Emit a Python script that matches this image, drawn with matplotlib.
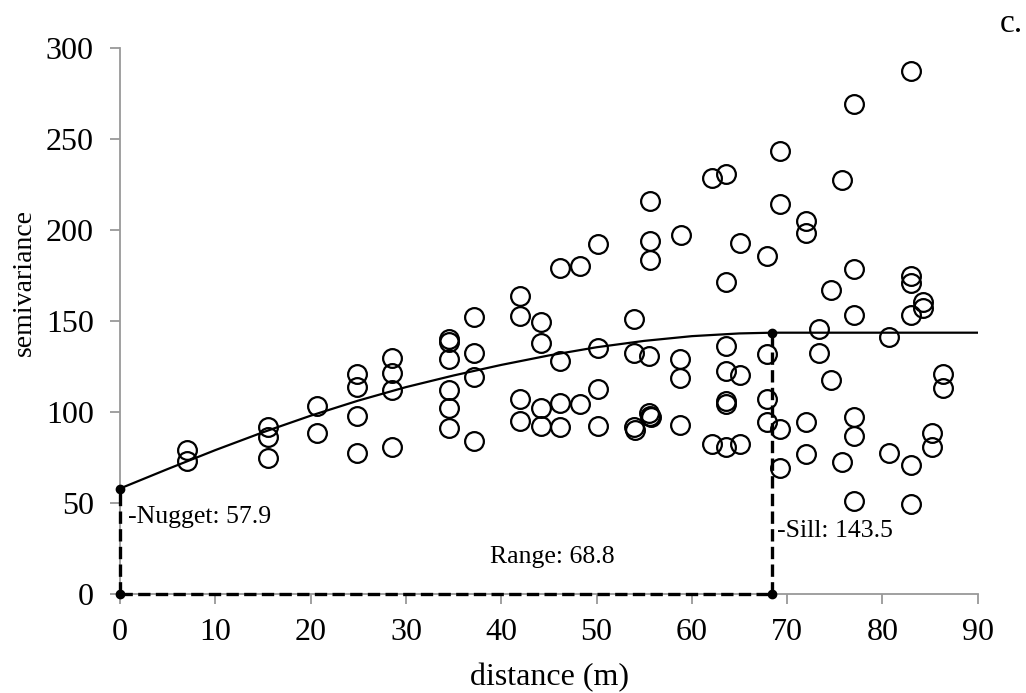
import matplotlib.pyplot as plt

plt.rcParams["font.family"] = ["Liberation Serif", "DejaVu Serif"]

# empirical semivariogram points (distance, semivariance)
dist = [7.0, 7.0, 15.5, 15.5, 15.5, 20.7, 20.7,
        24.9, 24.9, 24.9, 24.9, 28.5, 28.5, 28.5, 28.5,
        34.5, 34.5, 34.5, 34.5, 34.5, 34.5,
        37.1, 37.1, 37.1, 37.1,
        42.0, 42.0, 42.0, 42.0,
        44.2, 44.2, 44.2, 44.2,
        46.2, 46.2, 46.2, 46.2, 48.3, 48.3,
        50.2, 50.2, 50.2, 50.2,
        53.9, 53.9, 53.9, 54.0,
        55.6, 55.6, 55.6, 55.5, 55.5, 55.6, 55.7,
        58.8, 58.8, 58.8, 58.9,
        62.1, 62.1,
        63.6, 63.6, 63.6, 63.6, 63.6, 63.6, 63.6,
        65.0, 65.0, 65.0,
        67.9, 67.9, 67.9, 67.9,
        69.2, 69.2, 69.2, 69.2,
        72.0, 72.0, 72.0, 72.0,
        73.3, 73.3, 74.6, 74.6, 75.8, 75.8,
        77.0, 77.0, 77.0, 77.0, 77.0, 77.0,
        80.7, 80.7,
        83.0, 83.0, 83.0, 83.0, 83.0, 83.0,
        84.2, 84.2, 85.2, 85.2, 86.4, 86.4]
semivar = [79.1, 73.1, 91.9, 86.4, 74.9, 103.3, 88.3,
           120.9, 113.6, 98.0, 77.3, 129.8, 121.2, 112.1, 80.9,
           139.9, 138.6, 129.0, 112.1, 102.4, 91.4,
           152.0, 132.6, 119.4, 84.1,
           163.7, 152.6, 107.0, 95.2,
           149.6, 137.7, 102.0, 92.3,
           179.3, 128.2, 104.8, 91.6, 180.2, 104.4,
           192.1, 135.3, 112.5, 92.5,
           150.9, 132.2, 91.6, 90.1,
           216.1, 194.1, 183.5, 130.8, 99.3, 97.8, 97.1,
           128.9, 118.8, 92.9, 196.9,
           228.4, 82.4,
           230.6, 171.1, 136.3, 122.5, 105.7, 104.4, 80.9,
           192.5, 120.3, 82.4,
           185.9, 131.9, 107.0, 94.7,
           243.4, 214.3, 90.7, 69.1,
           204.6, 198.5, 94.7, 76.9,
           145.6, 132.2, 167.0, 117.6, 227.5, 72.4,
           269.1, 178.4, 153.3, 97.1, 87.0, 51.3,
           141.4, 77.3,
           287.4, 174.7, 170.7, 153.3, 70.9, 49.5,
           160.6, 157.0, 88.6, 80.9, 120.9, 113.0]

# fitted model curve
model_dist = [0, 5, 10, 15, 20, 25, 30, 35, 40, 45, 50, 55, 60, 65, 68.4, 90]
model_val = [57.9, 68.6, 79.0, 88.8, 97.9, 106.2, 113.6, 120.0, 125.8,
             131.0, 135.5, 139.0, 141.6, 143.1, 143.5, 143.5]

nugget = 57.9
sill = 143.5
range_x = 68.4

fig = plt.figure(figsize=(10.26, 6.93), dpi=100)
ax = fig.add_axes([0.117, 0.143, 0.836, 0.788])

ax.plot(model_dist, model_val, color="black", lw=1.6, zorder=2)
ax.plot(dist, semivar, "o", ms=13.5, mfc="none", mec="black", mew=1.6,
        zorder=3, clip_on=False)

# nugget / sill / range guides
ax.plot([0, 0], [0, nugget], "--", color="black", lw=2.4, clip_on=False, zorder=4)
ax.plot([0, range_x], [0, 0], "--", color="black", lw=2.4, clip_on=False, zorder=4)
ax.plot([range_x, range_x], [0, sill], "--", color="black", lw=2.4, clip_on=False, zorder=4)
ax.plot([0, 0, range_x, range_x], [0, nugget, 0, sill], "o", color="black",
        ms=6, clip_on=False, zorder=5)

ax.text(0.8, 42.3, "-Nugget: 57.9", fontsize=18.5, va="center", ha="left")
ax.text(45.4, 20.3, "Range: 68.8", fontsize=18.5, va="center", ha="center")
ax.text(68.9, 34.6, "-Sill: 143.5", fontsize=18.5, va="center", ha="left")
fig.text(0.997, 0.966, "c.", fontsize=24, ha="right", va="center")

ax.set_xlim(0, 90)
ax.set_ylim(0, 300)
ax.set_xticks(range(0, 91, 10))
ax.set_yticks(range(0, 301, 50))
ax.set_xlabel("distance (m)", fontsize=23, va="top")
ax.xaxis.set_label_coords(0.501, -0.126)
ax.set_ylabel("semivariance", fontsize=20, va="center")
ax.yaxis.set_label_coords(-0.111, 0.571)

for s in ["top", "right"]:
    ax.spines[s].set_visible(False)
for s in ["left", "bottom"]:
    ax.spines[s].set_color("#999999")
    ax.spines[s].set_linewidth(1.3)
ax.tick_params(axis="both", direction="out", length=7, width=1.3,
               color="#999999", labelsize=23)
ax.tick_params(axis="x", pad=10)
ax.tick_params(axis="y", pad=12)

plt.savefig("out.png", dpi=100)
